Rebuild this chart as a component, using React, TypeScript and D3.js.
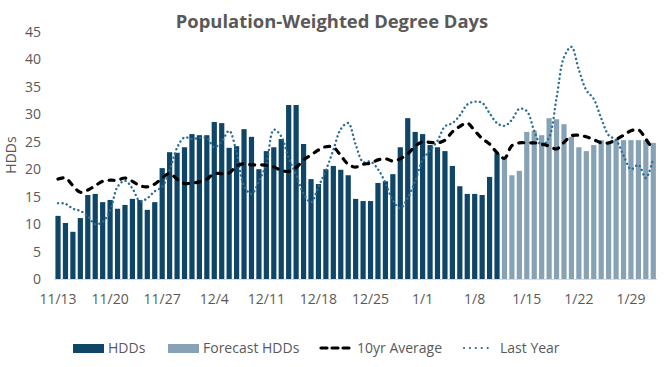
import React, { useEffect, useRef } from "react";
import * as d3 from "d3";

// x tick labels, one every 7 days starting 11/13
const tickLabels = ["11/13", "11/20", "11/27", "12/4", "12/11", "12/18", "12/25", "1/1", "1/8", "1/15", "1/22", "1/29"];
const tickEvery = 7;

// observed HDDs 11/13 - 1/11
const hdds = [
  11.5, 10.2, 8.6, 11.1, 15.3, 15.5, 14.0, 14.4, 12.8, 13.5, 14.6, 14.4, 12.6, 14.0,
  20.2, 23.1, 23.0, 24.0, 26.4, 26.2, 26.2, 28.6, 28.4, 23.9, 24.2, 27.3, 25.9,
  20.0, 23.3, 24.0, 25.5, 31.7, 31.7, 24.6, 18.2, 17.3, 20.0, 20.6, 19.9, 18.9, 14.6,
  14.2, 14.2, 17.5, 17.8, 19.1, 24.0, 29.3, 26.8, 26.4, 24.4, 24.0, 23.3, 20.6,
  16.9, 15.5, 15.5, 15.3, 18.6, 22.9,
];

// forecast HDDs 1/12 - 2/1
const forecastHdds = [
  22.2, 18.9, 19.7, 26.8, 27.0, 26.2, 29.3, 29.1, 28.2, 25.9, 24.0, 23.3, 24.4,
  25.3, 24.8, 25.3, 25.3, 25.3, 25.3, 25.3, 24.8,
];

const tenYearAvg = [
  18.2, 18.4, 17.0, 15.8, 16.2, 17.0, 17.8, 18.0, 18.0, 18.4, 17.8, 17.0, 16.8, 17.3,
  18.4, 19.2, 18.2, 17.4, 17.5, 17.7, 18.2, 19.2, 19.2, 19.3, 20.6, 21.0, 20.8,
  20.8, 20.7, 20.4, 19.8, 19.6, 20.3, 21.7, 22.6, 23.5, 24.1, 24.0, 22.5, 20.9, 20.4,
  20.9, 21.1, 21.7, 21.9, 21.5, 21.9, 22.8, 24.2, 25.0, 24.9, 24.8, 25.3, 26.8,
  27.8, 28.4, 27.0, 25.6, 24.6, 23.0, 22.0, 24.3, 24.8, 24.8, 24.8, 24.6, 24.2,
  23.7, 24.9, 26.1, 26.2, 25.9, 25.4, 24.8, 24.8, 25.4, 26.2, 27.0, 27.2, 25.5, 23.5,
];

const lastYear = [
  13.8, 13.7, 12.8, 12.4, 11.4, 10.0, 10.4, 12.5, 16.8, 17.9, 16.5, 14.2, 14.7, 16.0,
  16.8, 19.8, 23.9, 25.8, 25.5, 25.7, 25.7, 24.0, 25.1, 27.0, 23.0, 17.0, 15.5,
  17.8, 21.0, 27.2, 26.0, 22.0, 19.0, 15.5, 14.0, 16.8, 19.8, 23.5, 27.3, 28.4, 24.5,
  21.3, 21.4, 20.0, 17.5, 14.3, 12.9, 14.8, 17.8, 21.7, 23.4, 25.2, 27.8, 28.4,
  29.8, 31.8, 32.3, 32.1, 30.2, 28.4, 27.9, 29.0, 31.0, 30.6, 27.0, 24.3, 25.8,
  33.0, 40.4, 42.3, 38.1, 34.4, 32.8, 29.3, 26.2, 25.3, 22.5, 20.0, 20.8, 18.4, 22.0,
];

const yTicks = [0, 5, 10, 15, 20, 25, 30, 35, 40, 45];

const App: React.FC = () => {
  const svgRef = useRef<SVGSVGElement | null>(null);

  useEffect(() => {
    if (!svgRef.current) return;
    const font = "'Open Sans', 'Noto Sans', sans-serif";
    const grey = "#595959";
    const colors = {
      hdd: "#0f4566",
      forecast: "#87a2b4",
      avg: "#000000",
      last: "#2c6e96",
    };

    const svg = d3.select(svgRef.current);
    svg.selectAll("*").remove();

    const n = tenYearAvg.length;
    const idx = d3.range(n);

    const x = d3
      .scaleBand<number>()
      .domain(idx)
      .range([54.3, 657])
      .paddingInner(0.3)
      .paddingOuter(0.15);

    const y = d3.scaleLinear().domain([0, 45]).range([279, 32]);

    const cx = (i: number) => (x(i) || 0) + x.bandwidth() / 2;

    // title
    svg
      .append("text")
      .attr("x", 332)
      .attr("y", 28)
      .attr("text-anchor", "middle")
      .attr("font-family", font)
      .attr("font-size", "18.4px")
      .attr("font-weight", "bold")
      .attr("fill", grey)
      .text("Population-Weighted Degree Days");

    // y axis labels
    svg
      .append("g")
      .selectAll("text")
      .data(yTicks)
      .join("text")
      .attr("x", 41)
      .attr("y", (d) => y(d) + 5)
      .attr("text-anchor", "end")
      .attr("font-family", font)
      .attr("font-size", "14px")
      .attr("fill", grey)
      .text((d) => d);

    svg
      .append("text")
      .attr("transform", "translate(16,155) rotate(-90)")
      .attr("text-anchor", "middle")
      .attr("font-family", font)
      .attr("font-size", "14px")
      .attr("fill", grey)
      .text("HDDs");

    // bars
    const barData = [
      ...hdds.map((v, i) => ({ i, v, c: colors.hdd })),
      ...forecastHdds.map((v, j) => ({ i: hdds.length + j, v, c: colors.forecast })),
    ];
    svg
      .append("g")
      .selectAll("rect")
      .data(barData)
      .join("rect")
      .attr("x", (d) => x(d.i) || 0)
      .attr("y", (d) => y(d.v))
      .attr("width", x.bandwidth())
      .attr("height", (d) => y(0) - y(d.v))
      .attr("fill", (d) => d.c);

    // baseline
    svg
      .append("line")
      .attr("x1", 54)
      .attr("x2", 657)
      .attr("y1", y(0) + 0.5)
      .attr("y2", y(0) + 0.5)
      .attr("stroke", "#d9d9d9")
      .attr("stroke-width", 1);

    // x tick labels
    svg
      .append("g")
      .selectAll("text")
      .data(tickLabels)
      .join("text")
      .attr("x", (_, k) => cx(k * tickEvery))
      .attr("y", 304)
      .attr("text-anchor", "middle")
      .attr("font-family", font)
      .attr("font-size", "14px")
      .attr("fill", grey)
      .text((d) => d);

    const line = d3
      .line<number>()
      .x((_, i) => cx(i))
      .y((d) => y(d))
      .curve(d3.curveCatmullRom.alpha(0.5));

    svg
      .append("path")
      .attr("d", line(lastYear) || "")
      .attr("fill", "none")
      .attr("stroke", colors.last)
      .attr("stroke-width", 2.4)
      .attr("stroke-linecap", "round")
      .attr("stroke-dasharray", "0.1 4.3");

    svg
      .append("path")
      .attr("d", line(tenYearAvg) || "")
      .attr("fill", "none")
      .attr("stroke", colors.avg)
      .attr("stroke-width", 3.2)
      .attr("stroke-linecap", "round")
      .attr("stroke-dasharray", "5 7");

    // legend
    const legend = svg.append("g").attr("font-family", font).attr("font-size", "14px").attr("fill", grey);
    const ly = 348;

    legend.append("rect").attr("x", 73).attr("y", ly - 4).attr("width", 31).attr("height", 9).attr("fill", colors.hdd);
    legend.append("text").attr("x", 108).attr("y", ly + 5).text("HDDs");

    legend.append("rect").attr("x", 168).attr("y", ly - 4).attr("width", 31).attr("height", 9).attr("fill", colors.forecast);
    legend.append("text").attr("x", 203).attr("y", ly + 5).text("Forecast HDDs");

    legend
      .append("line")
      .attr("x1", 321)
      .attr("x2", 350)
      .attr("y1", ly)
      .attr("y2", ly)
      .attr("stroke", colors.avg)
      .attr("stroke-width", 3.2)
      .attr("stroke-linecap", "round")
      .attr("stroke-dasharray", "6 5");
    legend.append("text").attr("x", 357).attr("y", ly + 5).text("10yr Average");

    legend
      .append("line")
      .attr("x1", 464)
      .attr("x2", 493)
      .attr("y1", ly)
      .attr("y2", ly)
      .attr("stroke", colors.last)
      .attr("stroke-width", 2.2)
      .attr("stroke-linecap", "round")
      .attr("stroke-dasharray", "0.1 5.8");
    legend.append("text").attr("x", 500).attr("y", ly + 5).text("Last Year");
  }, []);

  return (
    <svg
      ref={svgRef}
      width={666}
      height={367}
      style={{ position: "absolute", left: 0, top: 0, background: "#fff" }}
    ></svg>
  );
};

export default App;
